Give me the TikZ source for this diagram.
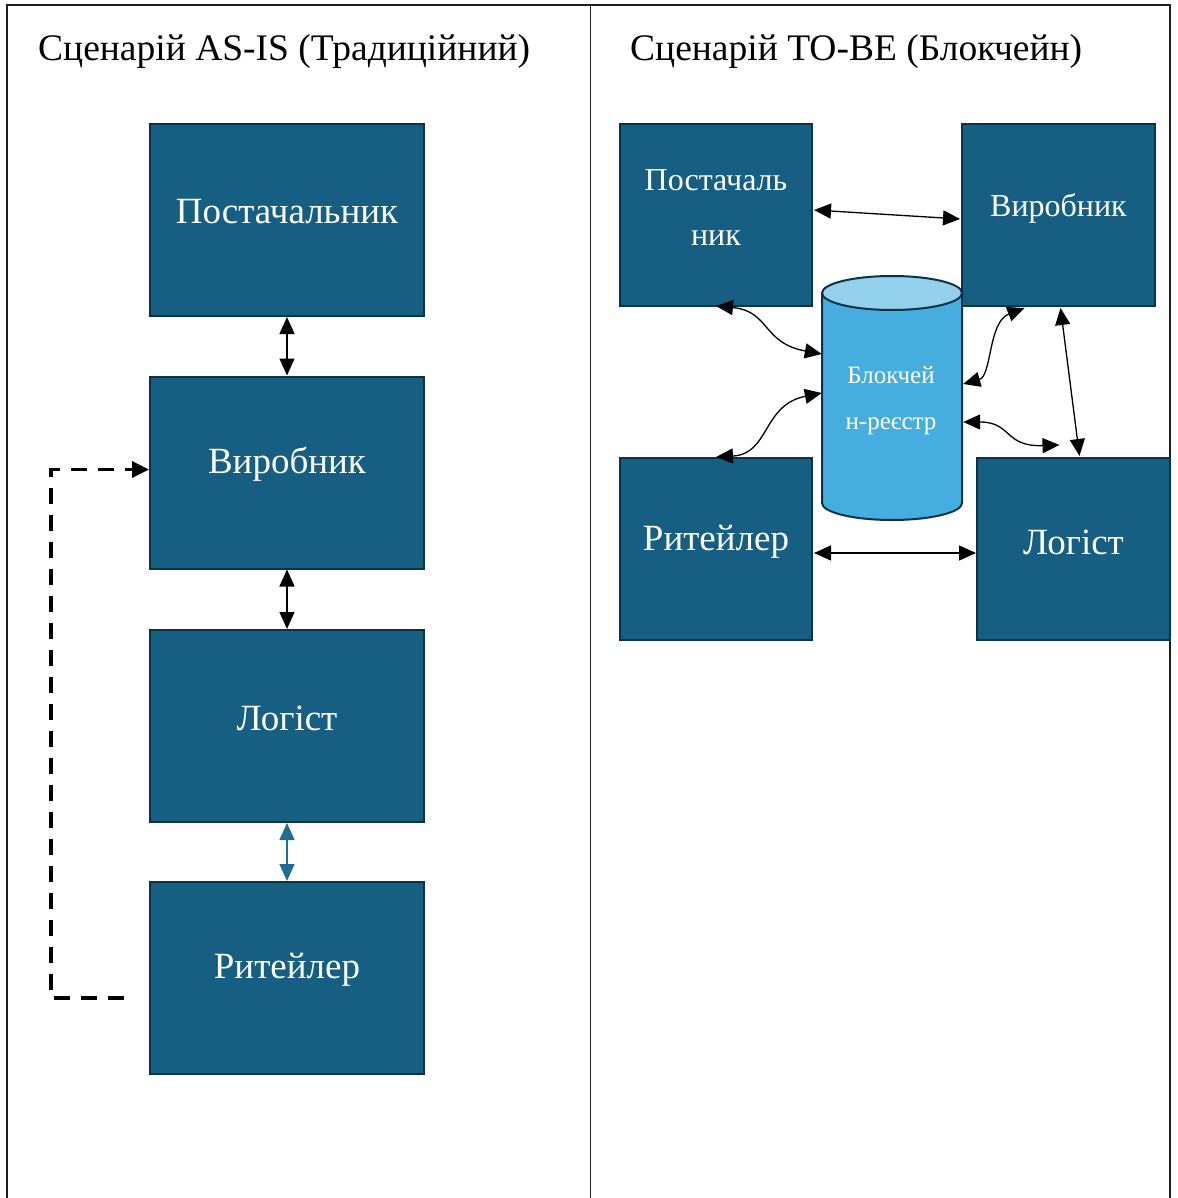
\documentclass[tikz,border=0pt]{standalone}
\usepackage{fontspec}
\setmainfont{Liberation Serif}
\usetikzlibrary{arrows.meta,calc}

\definecolor{boxfill}{RGB}{22,94,130}
\definecolor{boxedge}{RGB}{12,50,72}
\definecolor{cylbody}{RGB}{69,174,223}
\definecolor{cyltop}{RGB}{146,208,236}
\definecolor{bluelink}{RGB}{31,110,145}
\definecolor{framecol}{RGB}{30,30,30}

\begin{document}
\begin{tikzpicture}[x=1pt,y=-1pt,
  actor/.style={rectangle,fill=boxfill,draw=boxedge,line width=2pt,inner sep=0pt},
  bigbox/.style={actor,minimum width=274pt,minimum height=192pt},
  smallbox/.style={actor,minimum width=192pt,minimum height=182pt},
  bigtext/.style={text=white,font=\fontsize{37}{44}\selectfont,inner sep=0pt},
  smalltext/.style={text=white,font=\fontsize{32}{55}\selectfont,align=center,inner sep=0pt},
  ledgertext/.style={text=white,font=\fontsize{25}{46}\selectfont,align=center,inner sep=0pt},
  title/.style={font=\fontsize{37.5}{44}\selectfont,anchor=base west,inner sep=0pt},
  link/.style={line width=1.3pt,{Triangle[length=17pt,width=15pt]}-{Triangle[length=17pt,width=15pt]}},
  bluearrow/.style={link,draw=bluelink,fill=bluelink},
  dashedlink/.style={line width=3.5pt,dash pattern=on 16pt off 11pt,-{Triangle[length=17pt,width=16pt]}}
]
\useasboundingbox (0,0) rectangle (1177,1198);

% frame and divider
\draw[framecol,line width=2.2pt] (7,1210) -- (7,5) -- (1170,5) -- (1170,1210);
\draw[framecol,line width=1pt] (590,5) -- (590,1210);

% titles
\node[title] (asis) at (38,61) {Сценарій AS-IS (Традиційний)};
\node[title] (tobe) at (630,61) {Сценарій TO-BE (Блокчейн)};

% ---------- traditional chain ----------
\node[bigbox] (lsup) at (287,220) {};
\node[bigbox] (lman) at (287,472.5) {};
\node[bigbox] (llog) at (287,726) {};
\node[bigbox] (lret) at (287,978) {};
\node[bigtext,yshift=8pt] (tlsup) at (lsup.center) {Постачальник};
\node[bigtext,yshift=8pt] (tlman) at (lman.center) {Виробник};
\node[bigtext,yshift=8pt] (tllog) at (llog.center) {Логіст};
\node[bigtext,yshift=8pt] (tlret) at (lret.center) {Ритейлер};

\draw[link] (lsup.south) -- (lman.north);
\draw[link] (lman.south) -- (llog.north);
\draw[bluearrow] (llog.south) -- (lret.north);
\draw[dashedlink] ($(lret.west)+(-25,20)$) -- ++(-73,0) |- ($(lman.west)+(0,-3)$);

% ---------- blockchain network ----------
\node[smallbox] (sup) at (716,215) {};
\node[smallbox,minimum width=193pt] (man) at (1058.5,215) {};
\node[smallbox] (ret) at (716,549) {};
\node[smallbox,minimum width=193pt] (log) at (1073.5,549) {};
\node[smalltext,yshift=7pt] (tsup) at (sup.center) {Постачаль\\ник};
\node[smalltext,yshift=7pt] (tman) at (man.center) {Виробник};
\node[bigtext,yshift=7pt] (tret) at (ret.center) {Ритейлер};
\node[bigtext,yshift=7pt] (tlog) at (log.center) {Логіст};

% ledger cylinder
\node[minimum width=140pt,minimum height=244pt,inner sep=0pt] (ledger) at (892,398) {};
\filldraw[fill=cylbody,draw=boxedge,line width=2pt]
  (822,293) -- (822,503) arc[start angle=180,end angle=0,x radius=70,y radius=17]
  -- (962,293) -- cycle;
\filldraw[fill=cyltop,draw=boxedge,line width=2pt] (892,293) ellipse [x radius=70,y radius=17];
\node[ledgertext] (tledger) at (891,401) {Блокчей\\н-реєстр};

\coordinate (logtop) at ($(log.north)+(-14,-12)$);

\draw[link] ($(sup.east)+(1,-5)$) -- ($(man.west)+(-1,4)$);
\draw[link] ($(ret.east)+(1,4)$) -- ($(log.west)+(0,4)$);
\draw[link] ($(man.south)+(2,1)$) -- ($(log.north)+(6,-1)$);
\draw[link] ($(sup.south)+(0,-1)$) .. controls (770,311) and (762,343) .. ($(ledger.west)+(0,-44)$);
\draw[link] ($(ret.north)+(0,0)$) .. controls (770,454) and (762,405) .. ($(ledger.west)+(0,-5)$);
\draw[link] ($(ledger.east)+(1,-14)$) .. controls (992,376) and (988,322) .. ($(man.south)+(-34,1)$);
\draw[link] ($(ledger.east)+(1,24)$) .. controls (1012,422) and (1004,447) .. (logtop);
\end{tikzpicture}
\end{document}
